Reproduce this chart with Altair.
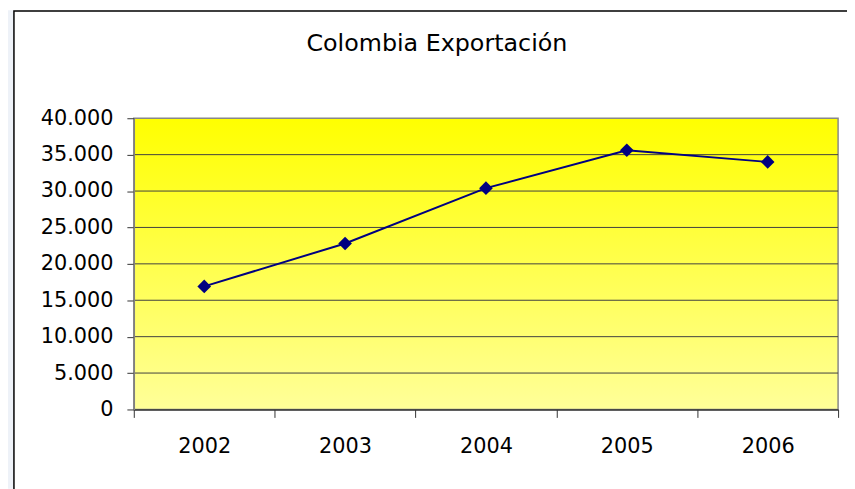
import altair as alt
import pandas as pd

years = [2002, 2003, 2004, 2005, 2006]
exports = [16900, 22800, 30400, 35600, 34000]
y_ticks = [0, 5000, 10000, 15000, 20000, 25000, 30000, 35000, 40000]
grid_vals = [5000, 10000, 15000, 20000, 25000, 30000, 35000]
title_text = "Colombia Exportación"

W, H = 711, 294
FONT = "DejaVu Sans"

df = pd.DataFrame({"year": years, "value": exports})
grid_df = pd.DataFrame({"g": grid_vals})
one = pd.DataFrame({"a": [0]})

xscale = alt.Scale(domain=[2001.5, 2006.5], nice=False, zero=False)
yscale = alt.Scale(domain=[0, 40000], nice=False)

xaxis = alt.Axis(
    values=[2001.5, 2002.5, 2003.5, 2004.5, 2005.5, 2006.5],
    labelExpr="datum.value < 2006 ? format(datum.value + 0.5, 'd') : ''",
    labelOffset=W / 10,
    title=None, grid=False, tickSize=8, tickColor="#333333", tickWidth=1,
    domainColor="#333333", domainWidth=1.5,
    labelFont=FONT, labelFontSize=21, labelColor="#000000",
    labelPadding=18, labelFlush=False, labelOverlap=False, zindex=1,
)
yaxis = alt.Axis(
    values=y_ticks,
    labelExpr="replace(format(datum.value, ','), ',', '.')",
    title=None, grid=False, tickSize=7, tickColor="#333333", tickWidth=1,
    domainColor="#808080", domainWidth=1.5,
    labelFont=FONT, labelFontSize=21, labelColor="#000000",
    labelPadding=14, labelFlush=False, labelOverlap=False, zindex=1,
)

left_strip = alt.Chart(one).mark_rect(fill="#EEF2F8").encode(
    x=alt.value(-127), x2=alt.value(-121), y=alt.value(-109), y2=alt.value(H + 80)
)
frame = alt.Chart(one).mark_rect(fill="#FFFFFF", stroke="#000000", strokeWidth=1.5).encode(
    x=alt.value(-121), x2=alt.value(W + 60), y=alt.value(-108.2), y2=alt.value(H + 120)
)
title = alt.Chart(one).mark_text(
    font=FONT, fontSize=24, color="#000000", align="center", baseline="alphabetic"
).encode(x=alt.value(306), y=alt.value(-68), text=alt.value(title_text))

bg = alt.Chart(one).mark_rect(
    fill=alt.LinearGradient(
        gradient="linear", x1=0, y1=0, x2=0, y2=1,
        stops=[alt.GradientStop(offset=0, color="#FFFF00"),
               alt.GradientStop(offset=1, color="#FFFF99")],
    ),
    stroke="#888888", strokeWidth=1.5,
).encode(x=alt.value(0), x2=alt.value(W), y=alt.value(0), y2=alt.value(H))

grid = alt.Chart(grid_df).mark_rule(color="#404040", strokeWidth=1).encode(
    y=alt.Y("g:Q", scale=yscale, axis=yaxis)
)

line = alt.Chart(df).mark_line(color="#000080", strokeWidth=2).encode(
    x=alt.X("year:Q", scale=xscale, axis=xaxis),
    y=alt.Y("value:Q", scale=yscale, axis=yaxis),
)
pts = alt.Chart(df).mark_point(shape="diamond", filled=True, size=190, color="#000080", opacity=1).encode(
    x=alt.X("year:Q", scale=xscale, axis=xaxis),
    y=alt.Y("value:Q", scale=yscale, axis=yaxis),
)

chart = alt.layer(left_strip, frame, title, bg, grid, line, pts).properties(
    width=W, height=H,
    autosize=alt.AutoSizeParams(type="none"),
    padding={"left": 127, "top": 109, "right": 9, "bottom": 78},
    background="#FFFFFF",
).configure_view(strokeWidth=0)

chart.save("out.html", embed_options={"renderer": "svg", "actions": False})
